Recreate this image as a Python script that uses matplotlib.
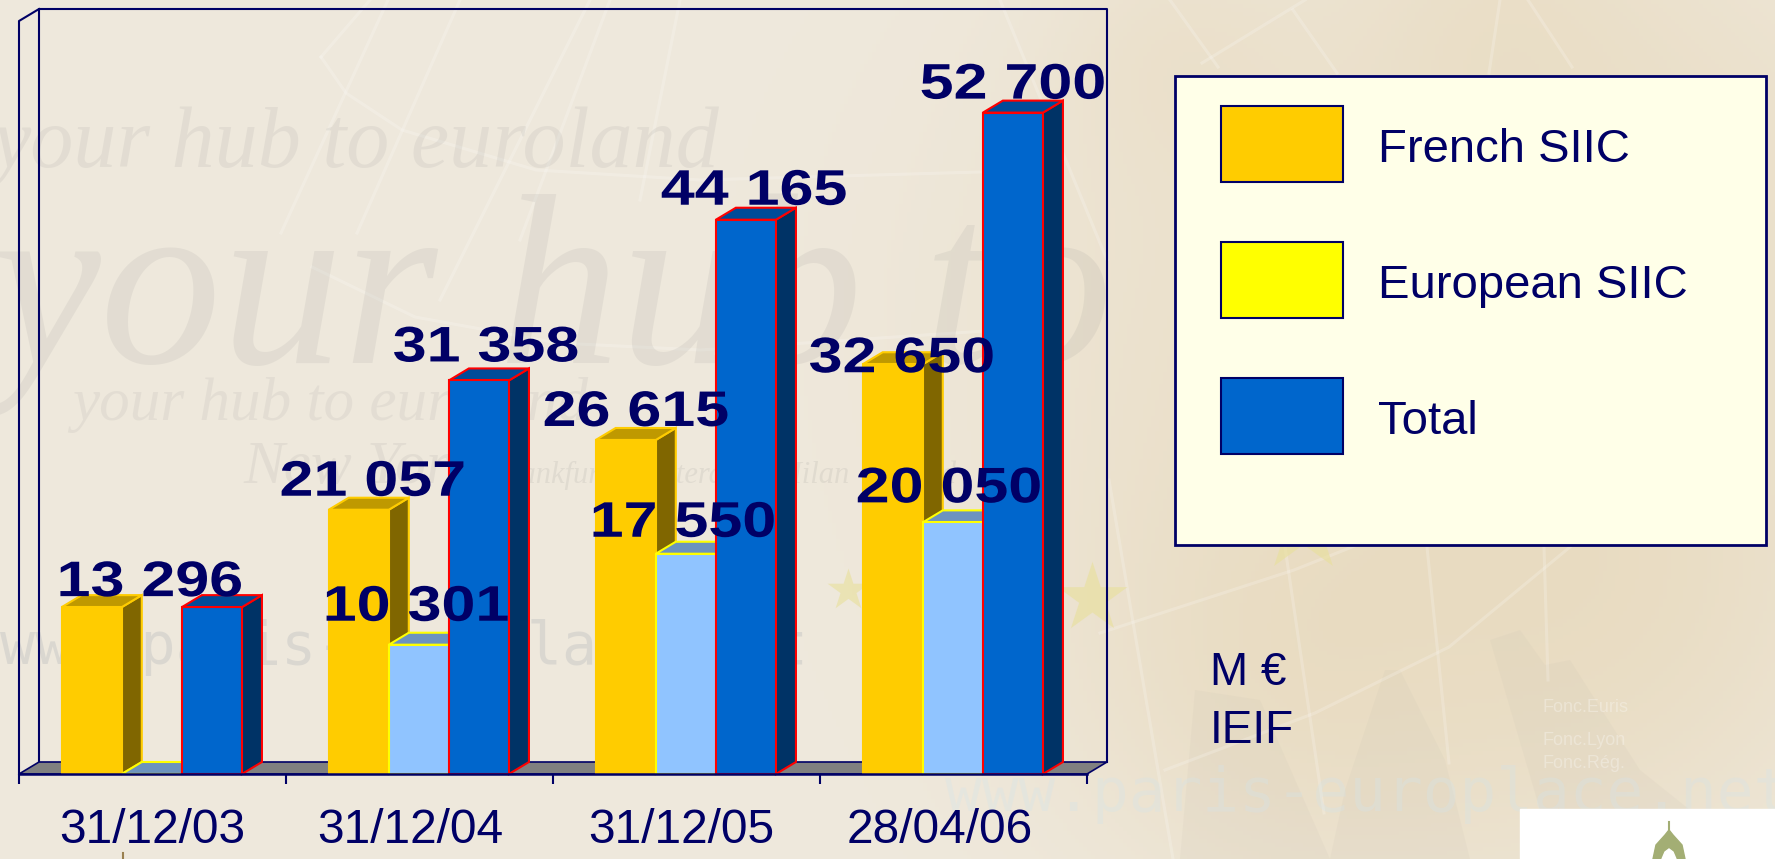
"""
SIIC market capitalisation, 3D style bar chart on a parchment background
"""

import numpy as np
import matplotlib
matplotlib.use('Agg')  # Non-interactive backend
import matplotlib.pyplot as plt
from matplotlib.patches import Rectangle, Polygon
from matplotlib.patheffects import AbstractPathEffect
from matplotlib.transforms import Affine2D

plt.rcParams['font.family'] = ['Liberation Sans', 'DejaVu Sans']

# data
dates = ['31/12/03', '31/12/04', '31/12/05', '28/04/06']
series_names = ['French SIIC', 'European SIIC', 'Total']
french = [13296, 21057, 26615, 32650]
european = [0, 10301, 17550, 20050]
total = [13296, 31358, 44165, 52700]
y_max = 60000

NAVY = '#000066'
W, H = 1775, 859
fig = plt.figure(figsize=(W / 100, H / 100), dpi=100)


class StretchX(AbstractPathEffect):
    # the value labels are a wide bold face, widen the glyphs around their centre
    def __init__(self, cx, sx):
        super().__init__()
        self.cx = cx
        self.sx = sx

    def draw_path(self, renderer, gc, tpath, affine, rgbFace=None):
        stretch = Affine2D().translate(-self.cx, 0).scale(self.sx, 1).translate(self.cx, 0)
        renderer.draw_path(gc, tpath, affine + stretch, rgbFace)


def px_axes(left, top, right, bottom, **kw):
    # axes placed with pixel edges of the picture
    return fig.add_axes([left / W, 1 - bottom / H, (right - left) / W, (bottom - top) / H], **kw)


# background, in pixel coords
bg = px_axes(0, 0, W, H)
bg.axis('off')

xx, yy = np.meshgrid(np.arange(0, W, 4), np.arange(0, H, 4))
img = np.ones(xx.shape + (3,)) * np.array([239, 233, 221]) / 255
tan_blobs = [(1250, 300, 230, .45), (1650, 200, 220, .6), (1300, 650, 170, .75), (1600, 600, 200, .7),
             (1180, 60, 90, .4), (1500, 520, 150, .5), (1500, 30, 110, .5)]
for cx, cy, r, amount in tan_blobs:
    w = amount * np.exp(-((xx - cx) ** 2 + (yy - cy) ** 2) / (2 * r ** 2))
    img = img * (1 - w[..., None]) + np.array([232, 218, 190]) / 255 * w[..., None]
bg.imshow(img, extent=(0, W, H, 0), aspect='auto', zorder=0)
bg.set_xlim(0, W)
bg.set_ylim(H, 0)

# grey land shapes
for pts in [[(1330, 859), (1345, 790), (1385, 670), (1400, 670), (1445, 760), (1470, 859)],
            [(1490, 640), (1520, 630), (1545, 665), (1570, 660), (1640, 770), (1690, 810), (1540, 810)],
            [(1180, 859), (1195, 690), (1260, 700), (1330, 859)]]:
    bg.add_patch(Polygon(pts, fc='#C8C0B0', alpha=.13, lw=0, zorder=1))

# faint globe lines
globe_lines = [
    [(321, 57), (346, 93), (402, 130), (536, 170), (700, 180), (1050, 170)],
    [(312, 267), (415, 317), (558, 343), (700, 350), (1000, 330)],
    [(281, 233), (388, 0)], [(357, 233), (460, 0)], [(321, 57), (370, 0)], [(440, 300), (590, 0)],
    [(520, 240), (610, 0)], [(640, 200), (680, 0)],
    [(1100, 633), (1294, 570), (1420, 520)], [(1165, 770), (1315, 713), (1449, 647), (1570, 547)],
    [(1109, 480), (1173, 859)], [(1285, 547), (1324, 813)], [(1427, 547), (1449, 763)], [(1544, 547), (1548, 680)],
    [(1170, 0), (1218, 67)], [(1305, 0), (1202, 63)], [(1293, 10), (1337, 73)],
    [(1500, 0), (1489, 73)], [(1528, 0), (1572, 67)], [(1000, 0), (1107, 260)],
]
for line in globe_lines:
    xs, ys = zip(*line)
    bg.plot(xs, ys, color='white', alpha=.2, lw=2.2, zorder=1)
for sx, sy, s in [(848, 590, 1000), (1092, 598, 2800), (1303, 525, 5200)]:
    bg.scatter([sx], [sy], marker='*', s=s, color='#E8E09A', alpha=.6, lw=0, zorder=1)

# watermark text
wm = dict(color='#8C8C8C', family='Liberation Serif', style='italic', va='baseline', zorder=1)
bg.text(-8, 167, 'your hub to euroland', fontsize=62, alpha=.12, **wm)
bg.text(-8, 363, 'your hub to', fontsize=175, alpha=.12, **wm)
bg.text(72, 420, 'your hub to euroland', fontsize=44, alpha=.11, **wm)
bg.text(243, 483, 'New York', fontsize=44, alpha=.12, **wm)
bg.text(490, 483, 'Frankfurt  Amsterdam  Milan  Madrid', fontsize=22, alpha=.14, **wm)
bg.text(0, 648, 'www.paris-europlace.net', fontsize=42, alpha=.25, va='center', color='#A0A6B0',
        family='DejaVu Sans Mono', zorder=1)
bg.text(945, 795, 'www.paris-europlace.net', fontsize=44, alpha=.32, va='center', color='#D4E4EA',
        family='DejaVu Sans Mono', zorder=1)
for name, ty in [('Fonc.Euris', 712), ('Fonc.Lyon', 745), ('Fonc.Rég.', 768)]:
    bg.text(1542, ty, name, fontsize=13, color='white', alpha=.3, zorder=1)

# logo corner
bg.add_patch(Rectangle((1520, 809), 255, 50, color='white', zorder=2))
bg.add_patch(Polygon([[1653, 859], [1656, 845], [1665, 835], [1669, 830], [1673, 835], [1682, 845], [1685, 859]],
                     color='#A3AE74', zorder=3))
bg.add_patch(Polygon([[1662, 859], [1665, 852], [1669, 849], [1673, 852], [1676, 859]], color='white', zorder=3))
bg.plot([1669, 1669], [833, 834 - 12], color='#A3AE74', lw=1.5, zorder=3)
bg.plot([123, 123], [853, 859], color='#9A8050', lw=1.5, zorder=2)

# legend box
bg.add_patch(Rectangle((1175, 76), 591, 469, fc='#FFFFE8', ec=NAVY, lw=2, zorder=4))
legend_colors = ['#FFCC00', '#FFFF00', '#0066CC']
for i, (name, color) in enumerate(zip(series_names, legend_colors)):
    y = 106 + i * 136
    bg.add_patch(Rectangle((1221, y), 122, 76, fc=color, ec=NAVY, lw=1.5, zorder=5))
    bg.text(1378, y + 44, name, fontsize=34, color=NAVY, va='center', zorder=5)
bg.text(1210, 685, 'M €', fontsize=33, color=NAVY, va='baseline')
bg.text(1210, 743, 'IEIF', fontsize=33, color=NAVY, va='baseline')

# chart, front plane of the 3D box
ax = px_axes(19, 21, 1087, 774)
ax.patch.set_alpha(0)
ax.set_xlim(0, len(dates))
ax.set_ylim(0, y_max)
for s in ax.spines.values():
    s.set_visible(False)

dx = 20 / (1087 - 19) * len(dates)
dy = 12 / (774 - 21) * y_max

# back wall and floor
ax.plot([dx, dx, len(dates) + dx, len(dates) + dx], [dy, y_max + dy, y_max + dy, dy],
        color=NAVY, lw=1.5, clip_on=False, zorder=1)
ax.plot([0, 0, dx], [0, y_max, y_max + dy], color=NAVY, lw=1.5, clip_on=False, zorder=1)
ax.add_patch(Polygon([[0, 0], [dx, dy], [len(dates) + dx, dy], [len(dates), 0]], fc='#808080', ec=NAVY, lw=1.2,
                     clip_on=False, zorder=1))

ax.set_xticks(np.arange(len(dates) + 1))
ax.set_xticklabels([])
ax.set_yticks([])
ax.tick_params(axis='x', length=7, width=1.5, color=NAVY)
ax.spines['bottom'].set_visible(True)
ax.spines['bottom'].set_color(NAVY)
ax.spines['bottom'].set_linewidth(1.8)
ax.spines['bottom'].set_zorder(40)

date_shift = [0, -9, -5, -14]
for i, d in enumerate(dates):
    ax.annotate(d, xy=(i + .5, 0), xytext=(date_shift[i], -69), textcoords='offset pixels', ha='center',
                va='baseline', fontsize=34.5, color=NAVY, annotation_clip=False)

bar_w = 0.225
styles = [
    dict(front='#FFCC00', side='#806600', top='#BF9900', edge='#FFCC00'),
    dict(front='#90C4FF', side='#6C93BF', top='#6C93BF', edge='#FFFF00'),
    dict(front='#0066CC', side='#003366', top='#004C99', edge='#FF0000'),
]
z = 3
for k, (vals, st) in enumerate(zip([french, european, total], styles)):
    for i, v in enumerate(vals):
        x0 = i + 0.16 + k * bar_w
        x1 = x0 + bar_w
        ax.bar(x0, v, bar_w, align='edge', color=st['front'], edgecolor=st['edge'], linewidth=1.5,
               clip_on=False, zorder=z + 2)
        ax.add_patch(Polygon([[x1, 0], [x1 + dx, dy], [x1 + dx, v + dy], [x1, v]], fc=st['side'], ec=st['edge'],
                             lw=1.5, clip_on=False, zorder=z))
        ax.add_patch(Polygon([[x0, v], [x0 + dx, v + dy], [x1 + dx, v + dy], [x1, v]], fc=st['top'], ec=st['edge'],
                             lw=1.5, clip_on=False, zorder=z + 1))
    z += 3

# value labels, pixel nudges from the top centre of each bar
label_nudge = {
    0: [(58, 29), (14, 32), (10, 32), (9, 10)],
    1: [None, (-3, 42), (-3, 35), (-4, 38)],
    2: [None, (7, 37), (8, 33), (0, 32)],
}
for k, vals in enumerate([french, european, total]):
    for i, v in enumerate(vals):
        nudge = label_nudge[k][i]
        if nudge is None:
            continue
        x = i + 0.16 + k * bar_w + bar_w / 2
        cx = ax.transData.transform((x, v))[0] + nudge[0]
        ax.annotate(f'{v:,}'.replace(',', ' '), xy=(x, v), xytext=nudge, textcoords='offset pixels',
                    ha='center', va='center_baseline', fontsize=36, fontweight='bold', color=NAVY,
                    annotation_clip=False, zorder=50, path_effects=[StretchX(cx, 1.22)])

fig.savefig('out.png', dpi=100)
